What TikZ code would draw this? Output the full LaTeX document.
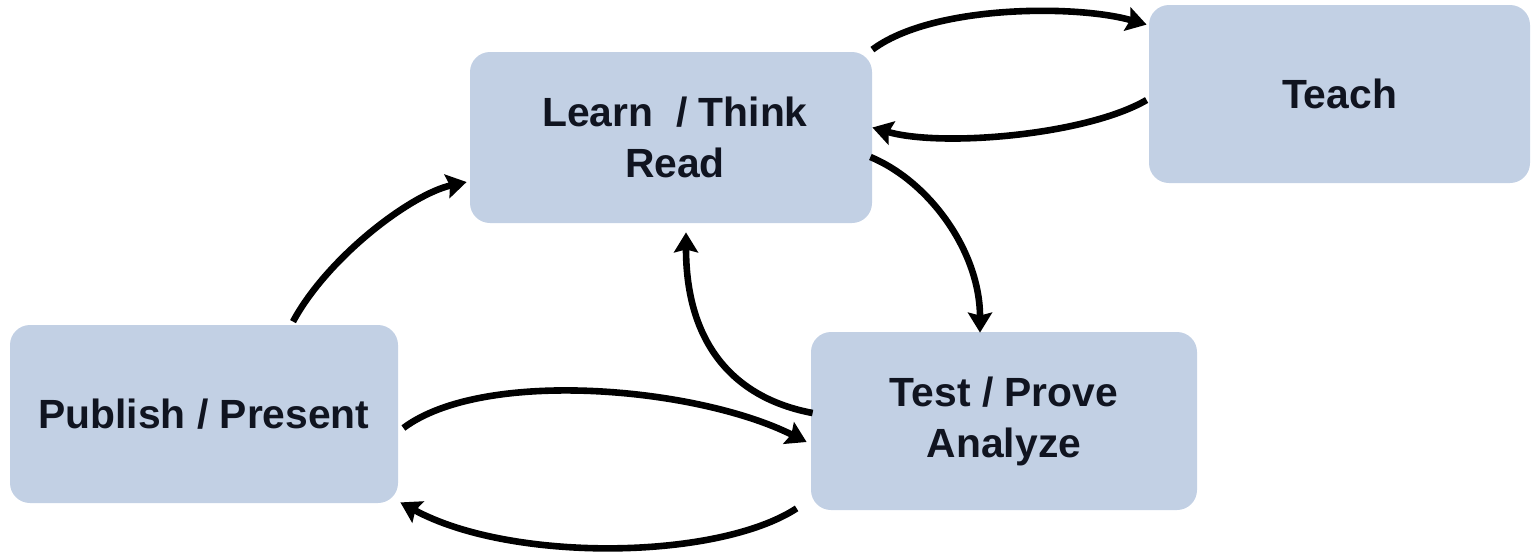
\documentclass[tikz,border=0pt]{standalone}
\usepackage{fontspec}
\setmainfont{Liberation Sans}
\usetikzlibrary{arrows.meta,calc}

\definecolor{boxfill}{RGB}{194,208,228}
\definecolor{boxtext}{RGB}{16,20,32}

\begin{document}
\begin{tikzpicture}[x=0.5pt,y=-0.5pt,
  stage/.style={rectangle, rounded corners=10pt, fill=boxfill, draw=none,
    inner sep=0pt, align=center, text=boxtext,
    font=\fontsize{20.4pt}{25.5pt}\selectfont\bfseries},
  flow/.style={line width=3.3pt, black,
    -{Stealth[length=10pt,width=12pt,inset=1.5pt]}}]

\useasboundingbox (0,0) rectangle (1532,554);

% stages of the cycle
\node[stage, minimum width=201pt, minimum height=85.5pt] (learn) at (671,137.5)
  {\raisebox{-7pt}{\hspace*{4pt}Learn\ \ / Think}\\\raisebox{-7pt}{\hspace*{4pt}Read}};
\node[stage, minimum width=190.5pt, minimum height=89pt] (teach) at (1339.5,94) {Teach};
\node[stage, minimum width=194pt, minimum height=89pt] (publish) at (204,414) {Publish / Present};
\node[stage, minimum width=193pt, minimum height=89pt] (test) at (1004,421) {Test / Prove\\Analyze};

% Learn <-> Teach
\draw[flow] ($(learn.north east)+(0,-2)$) .. controls +(60,-45) and +(-70,-20) .. ($(teach.north west)+(-2,20)$);
\draw[flow] ($(teach.west)+(-2,6)$) .. controls +(-60,35) and +(70,20) .. ($(learn.east)+(0,-10)$);

% Learn <-> Test
\draw[flow] ($(learn.east)+(-2,19.5)$) .. controls +(60,25) and +(0,-80) .. ($(test.north)+(-24,1)$);
\draw[flow] ($(test.west)+(2,-8)$) .. controls +(-80,-15) and +(0,110) .. ($(learn.south)+(15,9)$);

% Publish -> Learn
\draw[flow] ($(publish.north)+(89,-3)$) .. controls +(35,-65) and +(-55,12) .. ($(learn.west)+(-3,44.5)$);

% Publish <-> Test
\draw[flow] ($(publish.east)+(5,14)$) .. controls +(80,-60) and +(-110,-55) .. ($(test.west)+(-4,21)$);
\draw[flow] ($(test.south west)+(-14,-2)$) .. controls +(-80,52) and +(110,60) .. ($(publish.south east)+(2,-1)$);

\end{tikzpicture}
\end{document}
